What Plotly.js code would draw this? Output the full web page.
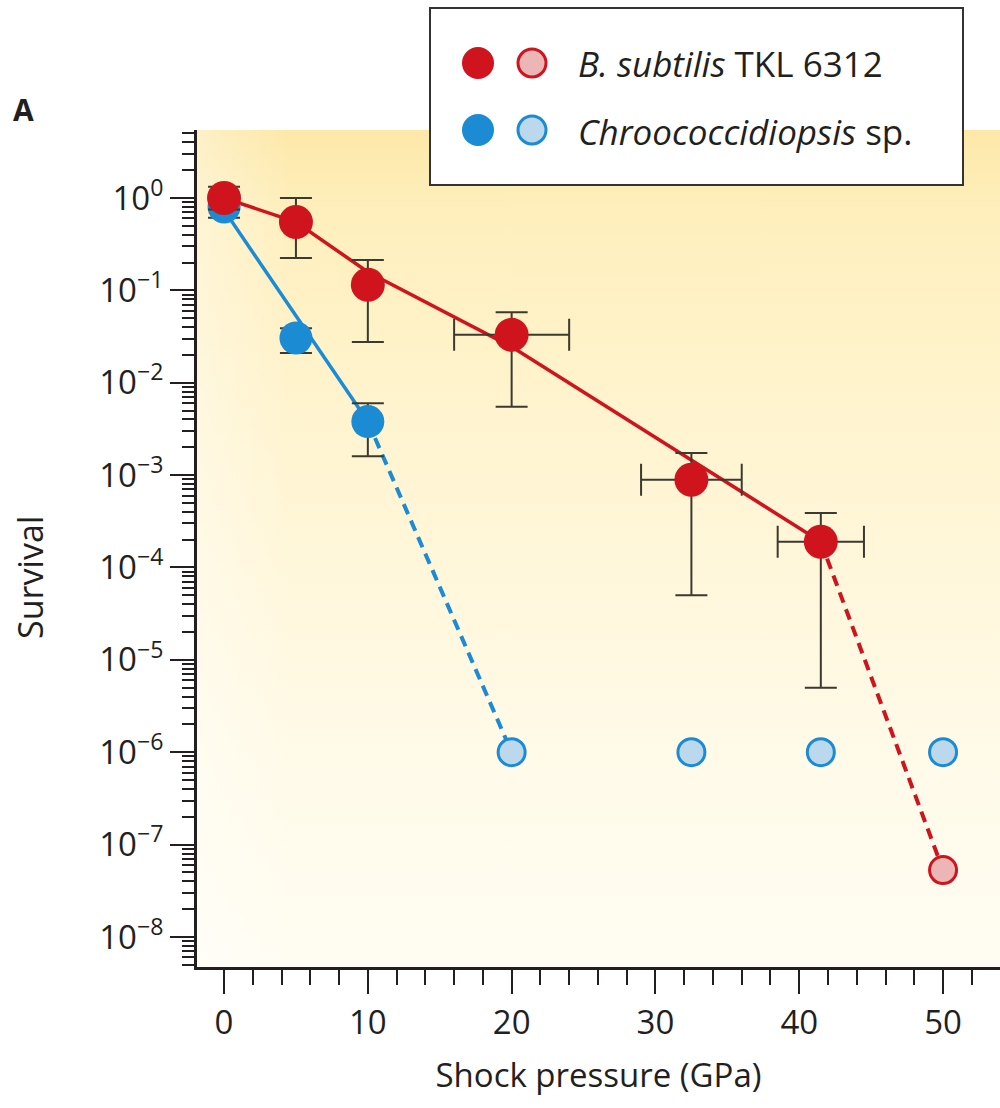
<!DOCTYPE html>
<html><head><meta charset="utf-8">
<script src="https://cdn.plot.ly/plotly-3.0.1.min.js"></script>
<style>body{margin:0;background:#fff}#chart{width:1000px;height:1108px}</style>
</head><body><div id="chart"></div>
<script>
// ---- data ----
const bsPressure = [0, 5, 10, 20, 32.5, 41.5];
const bsSurvival = [1.0, 0.55, 0.115, 0.033, 0.00089, 0.00019];
const bsUpper    = [1.32, 1.0, 0.213, 0.058, 0.00174, 0.00039];
const bsLower    = [0.75, 0.224, 0.0276, 0.0055, 0.00005, 0.000005];
const bsPressErr = [0, 0, 0, 4, 3.5, 3];

const bsOpenPressure = [50];
const bsOpenSurvival = [5.3e-8];

const chPressure = [0, 5, 10];
const chSurvival = [0.8, 0.0305, 0.0038];
const chUpper    = [0.95, 0.039, 0.006];
const chLower    = [0.61, 0.021, 0.0016];

const chOpenPressure = [20, 32.5, 41.5, 50];
const chOpenSurvival = [1e-6, 1e-6, 1e-6, 1e-6];

const bsFitX = [0, 5, 10, 20, 41.5];
const bsFitY = [1.0, 0.55, 0.158, 0.0245, 0.00019];
const bsExtrapX = [41.5, 50];
const bsExtrapY = [0.00019, 5.3e-8];

const chFitX = [0, 10];
const chFitY = [0.74, 0.0038];
const chExtrapX = [10, 20];
const chExtrapY = [0.0038, 1e-6];

const yTickVals = [1, 1e-1, 1e-2, 1e-3, 1e-4, 1e-5, 1e-6, 1e-7, 1e-8];
const yTickText = ['10<sup>0</sup>', '10<sup>\u22121</sup>', '10<sup>\u22122</sup>', '10<sup>\u22123</sup>',
  '10<sup>\u22124</sup>', '10<sup>\u22125</sup>', '10<sup>\u22126</sup>', '10<sup>\u22127</sup>', '10<sup>\u22128</sup>'];
const xTickVals = [0, 10, 20, 30, 40, 50];
const xTickText = ['0', '10', '20', '30', '40', '50'];

const legendLabels = ['<i>B. subtilis</i> TKL 6312', '<i>Chroococcidiopsis</i> sp.'];

// ---- styles ----
const RED = '#d0141d', RED_OPEN = '#ebb6b5', BLUE = '#1b8bd3', BLUE_OPEN = '#bcd8ec';
const INK = '#231f20', ERR = '#3a3a30';
const FONT = 'Open Sans, Noto Sans, sans-serif';

const diff = (a, b) => a.map((v, i) => v - b[i]);

const traces = [
  {x: bsFitX, y: bsFitY, mode: 'lines', line: {color: RED, width: 3.5}, hoverinfo: 'skip'},
  {x: bsExtrapX, y: bsExtrapY, mode: 'lines', line: {color: RED, width: 4, dash: '11px,7px'}, hoverinfo: 'skip'},
  {x: chFitX, y: chFitY, mode: 'lines', line: {color: BLUE, width: 3.5}, hoverinfo: 'skip'},
  {x: chExtrapX, y: chExtrapY, mode: 'lines', line: {color: BLUE, width: 4, dash: '11px,7px'}, hoverinfo: 'skip'},
  {x: chPressure, y: chSurvival, mode: 'markers', cliponaxis: false,
   marker: {color: BLUE, size: 33, line: {width: 0}},
   error_y: {type: 'data', symmetric: false, array: diff(chUpper, chSurvival), arrayminus: diff(chSurvival, chLower),
             color: ERR, thickness: 2, width: 16}},
  {x: bsPressure, y: bsSurvival, mode: 'markers', cliponaxis: false,
   marker: {color: RED, size: 34, line: {width: 0}},
   error_y: {type: 'data', symmetric: false, array: diff(bsUpper, bsSurvival), arrayminus: diff(bsSurvival, bsLower),
             color: ERR, thickness: 2, width: 16},
   error_x: {type: 'data', array: bsPressErr, color: ERR, thickness: 2, width: 16}},
  {x: chOpenPressure, y: chOpenSurvival, mode: 'markers', cliponaxis: false,
   marker: {color: BLUE_OPEN, size: 27, line: {color: BLUE, width: 3}}},
  {x: bsOpenPressure, y: bsOpenSurvival, mode: 'markers', cliponaxis: false,
   marker: {color: RED_OPEN, size: 27, line: {color: RED, width: 3}}}
];

// plot area in pixels: left 197, top 130, width 803, height 837
const L = 197, T = 130, W = 803, H = 837;
const px = v => (v - L) / W;
const py = v => (T + H - v) / H;

const bgSvg = "<svg xmlns='http://www.w3.org/2000/svg' width='100' height='100' preserveAspectRatio='none'>" +
  "<defs><linearGradient id='g' x1='0' y1='0' x2='0' y2='1'>" +
  "<stop offset='0' stop-color='#fde8a8'/><stop offset='0.1' stop-color='#feefbd'/>" +
  "<stop offset='0.4' stop-color='#fff5d3'/><stop offset='0.72' stop-color='#fffae7'/>" +
  "<stop offset='1' stop-color='#fffdf3'/></linearGradient>" +
  "<linearGradient id='h' x1='0' y1='0' x2='1' y2='0'>" +
  "<stop offset='0' stop-color='#ffffff' stop-opacity='0.35'/><stop offset='0.12' stop-color='#ffffff' stop-opacity='0'/>" +
  "</linearGradient></defs>" +
  "<rect width='100' height='100' fill='url(#g)'/><rect width='100' height='100' fill='url(#h)'/></svg>";

function circle(cx, cy, r, fill, lc, lw) {
  return {type: 'circle', xref: 'paper', yref: 'paper', xsizemode: 'pixel', ysizemode: 'pixel',
    xanchor: px(cx), yanchor: py(cy), x0: -r, x1: r, y0: -r, y1: r,
    fillcolor: fill, line: {color: lc, width: lw}, layer: 'above'};
}

const shapes = [
  {type: 'rect', xref: 'paper', yref: 'paper', x0: px(430), x1: px(963), y0: py(185), y1: py(8),
   fillcolor: '#ffffff', line: {color: '#333', width: 2}, layer: 'above'},
  circle(478, 63, 16, RED, RED, 0),
  circle(532, 63, 14, RED_OPEN, RED, 3),
  circle(478, 130, 16, BLUE, BLUE, 0),
  circle(532, 130, 14, BLUE_OPEN, BLUE, 3)
];

const annotations = [
  {text: legendLabels[0], xref: 'paper', yref: 'paper', x: px(576), y: py(64), xanchor: 'left', yanchor: 'middle',
   showarrow: false, font: {family: FONT, size: 35, color: INK}},
  {text: legendLabels[1], xref: 'paper', yref: 'paper', x: px(576), y: py(131), xanchor: 'left', yanchor: 'middle',
   showarrow: false, font: {family: FONT, size: 35, color: INK}},
  {text: '<b>A</b>', xref: 'paper', yref: 'paper', x: px(11), y: py(110), xanchor: 'left', yanchor: 'middle',
   showarrow: false, font: {family: FONT, size: 30, color: INK}},
  {text: 'Survival', xref: 'paper', yref: 'paper', x: px(30), y: py(578), xanchor: 'center', yanchor: 'middle',
   textangle: -90, showarrow: false, font: {family: FONT, size: 34, color: INK}}
];

const layout = {
  width: 1000, height: 1108,
  margin: {l: L, r: 1000 - L - W, t: T, b: 1108 - T - H, pad: 0},
  paper_bgcolor: '#ffffff', plot_bgcolor: '#fef5d4',
  showlegend: false,
  font: {family: FONT, color: INK, size: 33},
  images: [{source: 'data:image/svg+xml;base64,' + btoa(bgSvg), xref: 'paper', yref: 'paper',
            x: 0, y: 1, sizex: 1, sizey: 1, sizing: 'stretch', layer: 'below'}],
  xaxis: {
    range: [-1.88, 53.96], showgrid: false, zeroline: false,
    showline: true, linewidth: 3, linecolor: INK,
    ticks: 'outside', ticklen: 24, tickwidth: 2, tickcolor: INK,
    tickmode: 'array', tickvals: xTickVals, ticktext: xTickText,
    tickfont: {family: FONT, size: 33, color: INK},
    minor: {ticks: 'outside', ticklen: 15, tickwidth: 2, tickcolor: INK, dtick: 2, tick0: 0, showgrid: false},
    title: {text: 'Shock pressure (GPa)', font: {family: FONT, size: 33, color: INK}, standoff: 22}
  },
  yaxis: {
    type: 'log', range: [-8.325, 0.736], showgrid: false, zeroline: false,
    showline: true, linewidth: 3, linecolor: INK,
    ticks: 'outside', ticklen: 24, tickwidth: 2, tickcolor: INK,
    tickmode: 'array', tickvals: yTickVals, ticktext: yTickText,
    tickfont: {family: FONT, size: 33, color: INK},
    minor: {ticks: 'outside', ticklen: 12, tickwidth: 2, tickcolor: INK, dtick: 'D1', showgrid: false}
  },
  shapes: shapes,
  annotations: annotations
};

Plotly.newPlot('chart', traces, layout, {displayModeBar: false, staticPlot: true});
</script></body></html>
